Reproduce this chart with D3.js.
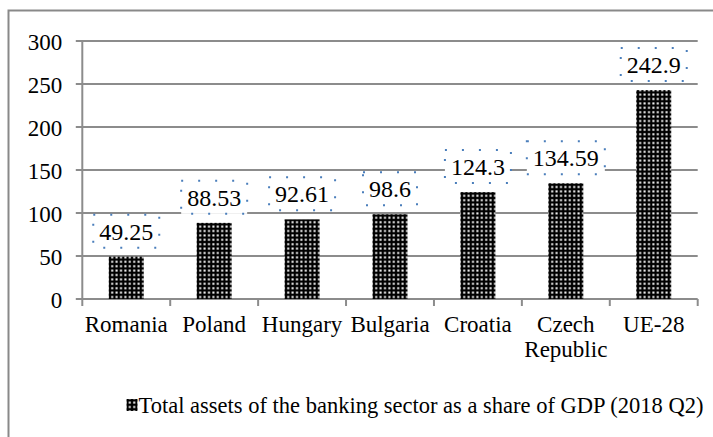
<!DOCTYPE html>
<html><head><meta charset="utf-8">
<script src="https://cdn.jsdelivr.net/npm/d3@7"></script>
<style>
body{margin:0;background:#fff;}
svg{display:block;}
</style></head>
<body>
<svg id="chart" width="713" height="437"></svg>
<script>
const categories = ["Romania","Poland","Hungary","Bulgaria","Croatia","Czech Republic","UE-28"];
const values = [49.25, 88.53, 92.61, 98.6, 124.3, 134.59, 242.9];
const labels = ["49.25","88.53","92.61","98.6","124.3","134.59","242.9"];
const yTicks = [0,50,100,150,200,250,300];
const seriesName = "Total assets of the banking sector as a share of GDP (2018 Q2)";

const FONT = "Liberation Serif";
const svg = d3.select("#chart");
const defs = svg.append("defs");
const pat = defs.append("pattern").attr("id","dots").attr("patternUnits","userSpaceOnUse")
  .attr("width",4.4).attr("height",4.4);
pat.append("rect").attr("width",4.4).attr("height",4.4).attr("fill","#000");
pat.append("rect").attr("x",1.2).attr("y",1.2).attr("width",2).attr("height",2).attr("fill","#fff");

// outer frame
svg.append("rect").attr("x",8.5).attr("y",10.5).attr("width",760).attr("height",460)
  .attr("fill","none").attr("stroke","#898989").attr("stroke-width",2);

const x = d3.scaleBand().domain(categories).range([82.3,697.7]).paddingInner(0).paddingOuter(0);
const y = d3.scaleLinear().domain([0,300]).range([299,41]);
const gridColor = "#8c8c8c";

// gridlines + y axis
const yAxis = d3.axisLeft(y).tickValues(yTicks).tickSize(0).tickPadding(0).tickFormat(d3.format("d"));
const gy = svg.append("g").attr("transform","translate(82.3,0)");
gy.selectAll("line.grid").data(yTicks).join("line").attr("class","grid")
  .attr("x1",-6.5).attr("x2",697.7-82.3).attr("y1",d=>y(d)).attr("y2",d=>y(d))
  .attr("stroke",gridColor).attr("stroke-width",2);
gy.call(yAxis);
gy.select(".domain").remove();
gy.selectAll(".tick text").attr("x",-20).attr("dy","0.35em").attr("fill","#000")
  .attr("font-family",FONT).attr("font-size",23);
gy.append("line").attr("x1",0).attr("x2",0).attr("y1",y(300)).attr("y2",y(0))
  .attr("stroke",gridColor).attr("stroke-width",2);

// x axis
const gx = svg.append("g").attr("transform",`translate(0,${y(0)})`);
const bounds = categories.map(c=>x(c)).concat([x.range()[1]]);
gx.selectAll("line.tk").data(bounds).join("line").attr("class","tk")
  .attr("x1",d=>d).attr("x2",d=>d).attr("y1",0).attr("y2",7)
  .attr("stroke",gridColor).attr("stroke-width",2);
const catLines = [];
categories.forEach(c=>{
  const parts = c==="Czech Republic" ? ["Czech","Republic"] : [c];
  parts.forEach((p,i)=>catLines.push({c, p, i}));
});
gx.selectAll("text.cat").data(catLines).join("text").attr("class","cat")
  .attr("x",d=>x(d.c)+x.bandwidth()/2).attr("y",d=>33+d.i*25).attr("text-anchor","middle")
  .attr("fill","#000").attr("font-family",FONT).attr("font-size",23)
  .text(d=>d.p);

// bars
const bw = 35;
svg.append("g").selectAll("rect").data(values).join("rect")
  .attr("x",(d,i)=>x(categories[i])+x.bandwidth()/2-bw/2)
  .attr("width",bw)
  .attr("y",d=>y(d)).attr("height",d=>y(0)-y(d))
  .attr("fill","url(#dots)");

// data labels
const lg = svg.append("g");
values.forEach((v,i)=>{
  const cx = x(categories[i])+x.bandwidth()/2;
  const bottom = y(v)-9, h=33;
  const g = lg.append("g");
  const rect = g.append("rect");
  const t = g.append("text").attr("x",cx).attr("y",bottom-h/2).attr("dy","0.35em")
    .attr("text-anchor","middle").attr("fill","#000")
    .attr("font-family",FONT).attr("font-size",24).text(labels[i]);
  const w = t.node().getComputedTextLength()+12;
  rect.attr("x",cx-w/2).attr("y",bottom-h).attr("width",w).attr("height",h)
    .attr("fill","#fff").attr("stroke","#4a7ebb").attr("stroke-width",2)
    .attr("stroke-dasharray","2 15");
});

// legend
const leg = svg.append("g");
const lt = leg.append("text").attr("y",405).attr("dy","0.35em").attr("fill","#000")
  .attr("font-family",FONT).attr("font-size",22.5).text(seriesName);
const tw = lt.node().getComputedTextLength();
const iconW = 11, gap = 1;
const startX = 415 - (iconW+gap+tw)/2;
leg.append("rect").attr("x",startX).attr("y",399).attr("width",iconW).attr("height",12).attr("fill","url(#dots)");
lt.attr("x",startX+iconW+gap);
</script>
</body></html>
